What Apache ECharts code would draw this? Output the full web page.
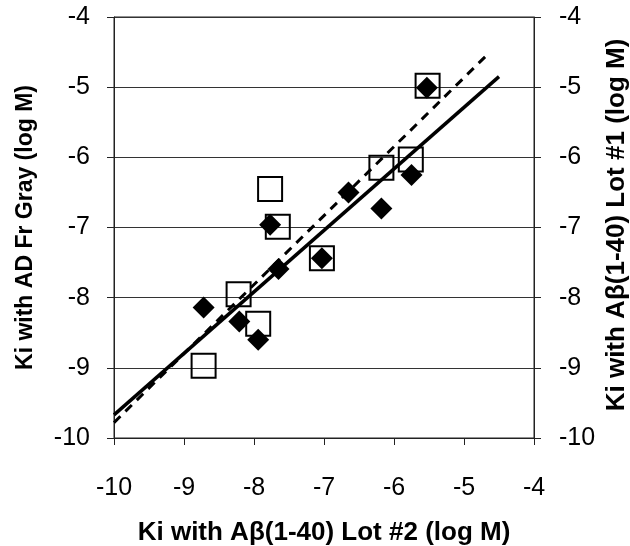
<!DOCTYPE html>
<html><head><meta charset="utf-8">
<script src="https://cdn.jsdelivr.net/npm/echarts@6/dist/echarts.min.js"></script>
<style>html,body{margin:0;padding:0;background:#fff}#c{width:630px;height:546px}</style>
</head><body><div id="c"></div>
<script>
// Open squares: Ki with Aβ(1-40) Lot #1 vs Lot #2
const squaresX = [-8.72, -8.22, -7.94, -7.77, -7.66, -7.03, -6.18, -5.76, -5.52];
const squaresY = [-8.97, -7.95, -8.37, -6.45, -6.99, -7.44, -6.15, -6.03, -4.98];
// Filled diamonds: Ki with AD Fr Gray vs Lot #2
const diamondsX = [-8.72, -8.21, -7.94, -7.77, -7.65, -7.03, -6.65, -6.18, -5.75, -5.53];
const diamondsY = [-8.14, -8.34, -8.60, -6.96, -7.59, -7.44, -6.50, -6.73, -6.25, -5.01];
// Regression lines (end points)
const solidX = [-10, -4.5];
const solidY = [-9.67, -4.85];
const dashX = [-10, -4.65];
const dashY = [-9.78, -4.52];
const ticks = [-10, -9, -8, -7, -6, -5, -4];

const zip = (a, b) => a.map((v, i) => [v, b[i]]);
const font = 'Liberation Sans, Arial, sans-serif';
const chart = echarts.init(document.getElementById('c'), null, {renderer: 'canvas'});
const axisLbl = {color: '#000', fontSize: 25, fontFamily: font};
chart.setOption({
  animation: false,
  backgroundColor: '#fff',
  grid: {left: 114, right: 96, top: 17, bottom: 108, show: true, borderColor: '#222', borderWidth: 1,
    containLabel: false, outerBoundsMode: 'none'},
  xAxis: {
    type: 'value', min: ticks[0], max: ticks[ticks.length - 1], interval: 1,
    axisLine: {show: true, lineStyle: {color: '#222', width: 1}},
    axisTick: {show: true, length: 7, lineStyle: {color: '#222'}},
    splitLine: {show: false},
    axisLabel: Object.assign({margin: 38}, axisLbl),
    name: 'Ki with A\u03b2(1-40) Lot #2 (log M)', nameLocation: 'middle', nameGap: 82,
    nameTextStyle: {fontSize: 26, fontWeight: 'bold', color: '#000', fontFamily: font}
  },
  yAxis: [{
    type: 'value', min: ticks[0], max: ticks[ticks.length - 1], interval: 1, position: 'left',
    axisLine: {show: true, lineStyle: {color: '#222', width: 1}},
    axisTick: {show: true, length: 7, lineStyle: {color: '#222'}},
    splitLine: {show: true, lineStyle: {color: '#333', width: 1}},
    axisLabel: Object.assign({margin: 24, padding: [12, 0, 0, 0]}, axisLbl),
    name: 'Ki with AD Fr Gray (log M)', nameLocation: 'middle', nameGap: 77, nameRotate: 90,
    nameTextStyle: {fontSize: 23, fontWeight: 'bold', color: '#000', fontFamily: font}
  }, {
    type: 'value', min: ticks[0], max: ticks[ticks.length - 1], interval: 1, position: 'right',
    axisLine: {show: true, lineStyle: {color: '#222', width: 1}},
    axisTick: {show: true, length: 7, lineStyle: {color: '#222'}},
    splitLine: {show: false},
    axisLabel: Object.assign({margin: 25, padding: [12, 0, 0, 0]}, axisLbl)
  }],
  graphic: [{
    type: 'text', x: 617, y: 225, rotation: Math.PI / 2,
    style: {text: 'Ki with A\u03b2(1-40) Lot #1 (log M)', font: 'bold 26px ' + font, fill: '#000',
      align: 'center', verticalAlign: 'middle'}
  }],
  series: [
    {type: 'scatter', yAxisIndex: 1, data: zip(squaresX, squaresY), symbol: 'rect', symbolSize: 24,
      itemStyle: {color: 'rgba(0,0,0,0)', borderColor: '#000', borderWidth: 2, opacity: 1}, z: 3},
    {type: 'line', data: zip(dashX, dashY), symbol: 'none', lineStyle: {color: '#000', width: 3, type: [9, 7]}, z: 4},
    {type: 'line', data: zip(solidX, solidY), symbol: 'none', lineStyle: {color: '#000', width: 3.5}, z: 4},
    {type: 'scatter', data: zip(diamondsX, diamondsY), symbol: 'diamond', symbolSize: 22,
      itemStyle: {color: '#000', opacity: 1}, z: 5}
  ]
});
</script></body></html>
